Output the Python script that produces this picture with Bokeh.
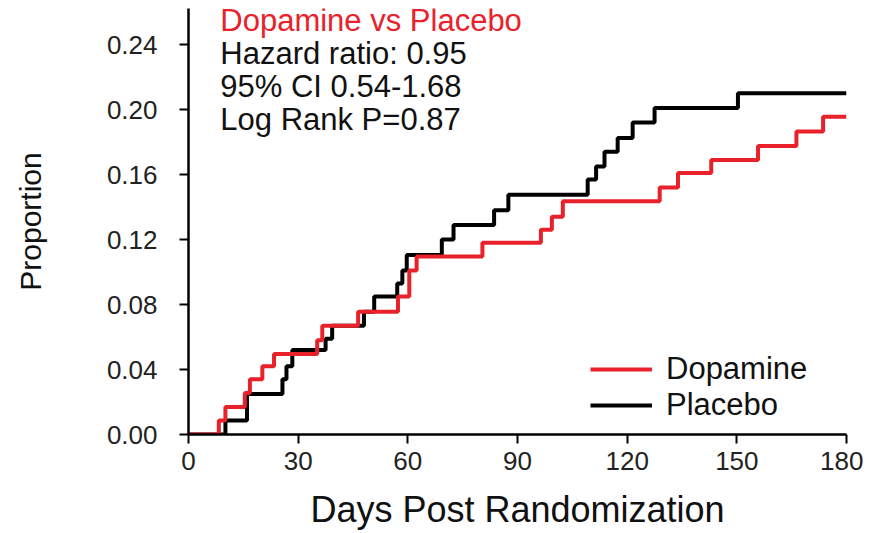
from bokeh.plotting import figure
from bokeh.models import FixedTicker, Range1d, Label, Legend, LegendItem, PrintfTickFormatter
from bokeh.embed import file_html
from bokeh.resources import INLINE

# cumulative proportion with the event (step after each day)
dopamine_days = [0, 8.3, 10.1, 15.4, 16.8, 20.2, 23.4, 35.2, 36.6, 46.4, 57.3, 60.4, 62.4,
                 80.4, 96.4, 99.4, 102.4, 128.9, 133.9, 143.0, 155.8, 166.3, 173.6, 180]
dopamine_prop = [0, 0.0086, 0.017, 0.0255, 0.034, 0.042, 0.0495, 0.058, 0.067, 0.0755, 0.085, 0.101, 0.1095,
                 0.118, 0.126, 0.134, 0.1435, 0.152, 0.161, 0.169, 0.1775, 0.1865, 0.1955, 0.1955]

placebo_days = [0, 10.1, 16.0, 25.7, 26.8, 28.4, 37.5, 39.3, 48.0, 50.8, 57.1, 58.5, 59.7,
                69.3, 72.5, 83.6, 87.5, 109.2, 111.5, 113.8, 117.4, 121.5, 127.5, 150.3, 180]
placebo_prop = [0, 0.0086, 0.025, 0.034, 0.042, 0.052, 0.059, 0.067, 0.0755, 0.085, 0.093, 0.101, 0.1105,
                0.12, 0.129, 0.138, 0.1475, 0.157, 0.165, 0.174, 0.1825, 0.192, 0.201, 0.21, 0.21]

x_ticks = [0, 30, 60, 90, 120, 150, 180]
y_ticks = [0.0, 0.04, 0.08, 0.12, 0.16, 0.20, 0.24]

stats_title = "Dopamine vs Placebo"
stats_lines = ["Hazard ratio: 0.95", "95% CI 0.54-1.68", "Log Rank P=0.87"]

RED = "#e8212b"
FONT = "Liberation Sans"

p = figure(output_backend="svg", toolbar_location=None,
           frame_width=658, frame_height=426,
           x_range=Range1d(0, 180), y_range=Range1d(0, 0.2622),
           min_border_left=188, min_border_right=17, min_border_top=8, min_border_bottom=80)
p.outline_line_color = None
p.xgrid.visible = False
p.ygrid.visible = False

pl = p.step(placebo_days, placebo_prop, mode="after", line_color="black", line_width=4)
dl = p.step(dopamine_days, dopamine_prop, mode="after", line_color=RED, line_width=4)

for ax in (p.xaxis[0], p.yaxis[0]):
    ax.axis_line_width = 2.5
    ax.major_tick_line_width = 2
    ax.major_tick_out = 9
    ax.major_tick_in = 0
    ax.minor_tick_line_color = None
    ax.major_label_text_font = FONT
    ax.major_label_text_font_size = "26px"
    ax.major_label_text_color = "#222222"
    ax.axis_label_text_font = FONT
    ax.axis_label_text_font_style = "normal"
    ax.axis_label_text_color = "#111111"

p.xaxis.ticker = FixedTicker(ticks=x_ticks)
p.xaxis.axis_label = "Days Post Randomization"
p.xaxis.axis_label_text_font_size = "36px"
p.xaxis.major_label_standoff = 8
p.xaxis.axis_label_standoff = 16

p.yaxis.ticker = FixedTicker(ticks=y_ticks)
p.yaxis.formatter = PrintfTickFormatter(format="%.2f")
p.yaxis.axis_label = "Proportion"
p.yaxis.axis_label_text_font_size = "30px"
p.yaxis.major_label_standoff = 22
p.yaxis.axis_label_standoff = 57

# stats block in the upper left
line_step = 0.0203
top_y = 0.2548
p.add_layout(Label(x=8.7, y=top_y, text=stats_title, text_color=RED, text_font=FONT,
                   text_font_size="31px", text_baseline="middle"))
for i, t in enumerate(stats_lines):
    p.add_layout(Label(x=8.7, y=top_y - line_step * (i + 1), text=t, text_color="#111111",
                       text_font=FONT, text_font_size="31px", text_baseline="middle"))

legend = Legend(items=[LegendItem(label="Dopamine", renderers=[dl]),
                       LegendItem(label="Placebo", renderers=[pl])],
                location=(402, 11), padding=0, margin=0, spacing=-4,
                glyph_width=62, glyph_height=30, label_height=30, label_standoff=14,
                label_text_font=FONT, label_text_font_size="31px", label_text_color="#111111",
                border_line_alpha=0, background_fill_alpha=0)
p.add_layout(legend)

open("out.html", "w").write(file_html(p, INLINE))
